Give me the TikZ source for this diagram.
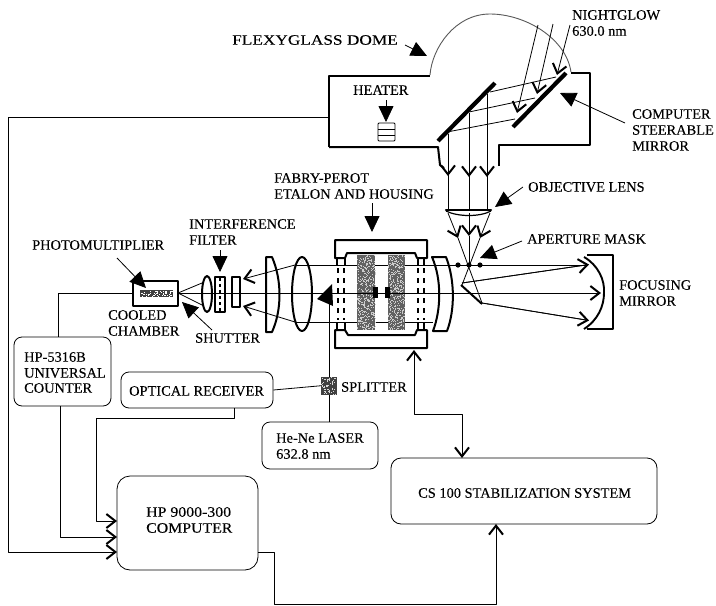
\documentclass[tikz,border=0pt]{standalone}
\usepackage{fontspec}
\setmainfont{Liberation Serif}[FakeBold=0.15]
\usetikzlibrary{arrows.meta}
\begin{document}
\begin{tikzpicture}[x=1pt,y=-1pt,line join=round,
  thinl/.style={draw=black,line width=0.8pt},
  wall/.style={draw=black,line width=2pt},
  thick mirror/.style={draw=black,line width=4.2pt},
  vee/.style={thinl,-{Straight Barb[length=9pt,width=14pt,line width=2pt]}},
  solidarrow/.style={thinl,-{Triangle[length=16pt,width=15pt]}},
  lbl/.style={font=\fontsize{14.4}{16}\selectfont,inner sep=0pt,anchor=west,text=black},
  sbox/.style={thinl,rounded corners=8pt,inner sep=0pt},
  lensline/.style={draw=black,line width=2pt}]
\useasboundingbox (0,0) rectangle (716,606);
\fill[white] (0,0) rectangle (716,606);

% ---------- boxes
\node[sbox,minimum width=97pt,minimum height=69pt] (counter) at (62.5,371.5) {};
\node[sbox,minimum width=152pt,minimum height=36pt] (recv) at (197,390) {};
\node[sbox,minimum width=116pt,minimum height=47pt] (laser) at (320,445.5) {};
\node[sbox,minimum width=141pt,minimum height=94pt,rounded corners=13pt] (comp) at (187.5,523) {};
\node[sbox,minimum width=266pt,minimum height=66pt,rounded corners=10pt] (cs) at (524,491) {};

% ---------- named connection points
\coordinate (housingOut) at (329,117);
\coordinate (corner1) at (8,117);
\coordinate (corner2) at (8,552);
\coordinate (compA) at (117,521);
\coordinate (compB) at (117,537);
\coordinate (compC) at (117,552);
\coordinate (compOut) at (258,552);
\coordinate (pmtOut) at (133,293);
\coordinate (etalonIn) at (414,350);
\coordinate (csIn) at (462,458);
\coordinate (csIn2) at (496,524);
\coordinate (split) at (329,385);

% ---------- signal wiring
\draw[vee] (housingOut) -- (corner1) -- (corner2) -- (compC);
\draw[vee] (60,406) -- (60,537) -- (compB);
\draw[vee] (234,408) -- (234,418) -- (96,418) -- (96,521) -- (compA);
\draw[thinl] (pmtOut) -- (58,293) -- (58,337);
\draw[thinl] (recv.east) -- (split);
\draw[vee] (compOut) -- (274,552) -- (274,604) -- (496,604) -- (csIn2);
\draw[vee] (414,400) -- (414,414) -- (462,414) -- (csIn);
\draw[vee] (414,400) -- (etalonIn);
\draw[thinl] (329,422) -- (329,300);

% ---------- housing and dome
\draw[wall] (329,147) -- (329,76) -- (430,76);
\draw[wall] (329,147) -- (438,147) -- (440,165) -- (444,168);
\draw[wall] (499,166) -- (499,145) -- (590,145) -- (590,73) -- (571,73);
\draw[draw=black!65,line width=0.9pt] (430,75) .. controls (432,48) and (455,14) .. (490,14)
  .. controls (525,14) and (566,38) .. (571,72);

% mirrors
\draw[thick mirror] (438,141) -- (495,83);
\draw[thick mirror] (513,127) -- (566,73);

% nightglow rays
\draw[vee] (570,25) -- (557,75);
\draw[vee] (553,24) -- (537,94);
\draw[vee] (538,25) -- (517,113);
\draw[thinl] (556,77) -- (490,92);
\draw[thinl] (535,98) -- (469,112);
\draw[thinl] (515,119) -- (447,132);

% down rays
\draw[thinl] (448,134) -- (448,209);
\draw[thinl] (469,113) -- (469,209);
\draw[thinl] (487,94) -- (487,209);
\draw[vee] (448,134) -- (448,176);
\draw[vee] (469,113) -- (469,177);
\draw[vee] (487,94) -- (487,177);

% objective lens
\draw[black,line width=2.4pt,line cap=round] (446,210) -- (491,210);
\draw[black,line width=1.2pt] (446,211) .. controls (458,217) and (480,217) .. (491,211);

% converging rays
\draw[vee] (448,213) -- (458,238);
\draw[vee] (490,213) -- (480,238);
\draw[vee] (469,213) -- (469,236);
\draw[thinl] (458,238) -- (482,303);
\draw[thinl] (480,238) -- (462,285);
\draw[thinl] (469,236) -- (469,265);

% aperture dots
\foreach \px/\nm in {458/a,469/b,480/c}{\fill[black] (\px,265) circle (2.6pt);}

% small folding mirror
\draw[black,line width=2pt] (461,285) -- (482,304);

% beams
\draw[thinl] (295,265) -- (587,265);
\draw[thinl] (295,322) -- (433,322);
\draw[thinl] (178,293) -- (590,293);
\draw[thinl] (462,283) -- (586,265);
\draw[thinl] (482,303) -- (586,320);
\draw[vee] (295,265) -- (243,279);
\draw[vee] (295,322) -- (243,306);
\draw[thinl] (202,283) -- (178,293) -- (202,305);

% focusing mirror
\draw[black,line width=1.8pt] (587,255) -- (613,255) -- (613,329) -- (587,329);
\draw[black,line width=1.9pt] (584,257) .. controls (598,265) and (605,280) .. (604,293)
  .. controls (604,306) and (598,320) .. (584,329);
\draw[vee] (462,283) -- (589,264.5);
\draw[vee] (482,303) -- (589,320.5);
\draw[vee] (470,293) -- (601,293);

% meniscus lens
\draw[lensline] (432,257) -- (446,257) .. controls (455,280) and (455,310) .. (447,331)
  -- (433,331) .. controls (441,310) and (442,280) .. (432,257) -- cycle;

% collimating lenses
\draw[lensline] (266,257) -- (272,257) .. controls (282,280) and (282,310) .. (272,332) -- (266,332) -- cycle;
\draw[lensline] (302,294) ellipse (10pt and 37pt);
\draw[lensline] (207,294) ellipse (5pt and 18pt);
\draw[lensline] (215,277) rectangle (225,312);
\draw[black,line width=1.4pt,dash pattern=on 3pt off 3pt] (220,278) -- (220,311);
\draw[lensline] (232,277) rectangle (240,307);

% etalon housing
\draw[wall] (335,258) -- (335,240) -- (427,240) -- (427,258) -- (417,258) -- (415,253) -- (347,253) -- (345,258) -- cycle;
\draw[wall] (335,330) -- (345,330) -- (348,335) -- (415,335) -- (417,330) -- (427,330) -- (427,348) -- (335,348) -- cycle;
\draw[black,line width=1.2pt] (337,258) -- (337,265) (345,258) -- (345,265) (418,258) -- (418,265) (424,258) -- (424,265);
\draw[black,line width=1.2pt] (337,322) -- (337,330) (345,322) -- (345,330) (418,322) -- (418,330) (424,322) -- (424,330);
\draw[black,line width=1.4pt,dash pattern=on 5pt off 5pt] (338,268) -- (338,320) (344,268) -- (344,320) (418,268) -- (418,320) (424,268) -- (424,320);

% etalon plates
\fill[black!62] (357,255) rectangle (375,330);
\fill[black!62] (388,255) rectangle (405,330);
\pgfmathsetseed{7}
\foreach \i in {1,...,420}{
  \pgfmathsetmacro{\rx}{357+18*rnd}
  \pgfmathsetmacro{\ry}{255+74*rnd}
  \fill[black!20] (\rx,\ry) rectangle ++(0.9,0.9);
  \pgfmathsetmacro{\sx}{388+16*rnd}
  \pgfmathsetmacro{\sy}{255+74*rnd}
  \fill[black!20] (\sx,\sy) rectangle ++(0.9,0.9);
}
\fill[black] (373,287) rectangle (378,298);
\fill[black] (385,287) rectangle (390,298);
\draw[thinl] (340,293) -- (420,293);

% splitter
\fill[black!75] (321,377) rectangle (337,395);
\foreach \i in {1,...,50}{
  \pgfmathsetmacro{\rx}{321+15*rnd}
  \pgfmathsetmacro{\ry}{377+17*rnd}
  \fill[black!15] (\rx,\ry) rectangle ++(1.1,1.1);
}

% PMT and chamber
\draw[black,line width=2.6pt] (133,281) rectangle (178,306);
\fill[black!75] (140,290) rectangle (173,297);
\foreach \i in {1,...,60}{
  \pgfmathsetmacro{\rx}{141+31*rnd}
  \pgfmathsetmacro{\ry}{291+5*rnd}
  \fill[white] (\rx,\ry) rectangle ++(1,1);
}

% heater
\draw[black,line width=0.9pt,rounded corners=1pt] (378,123) rectangle (395,141);
\draw[black,line width=0.9pt] (378,129) -- (395,129) (378,135) -- (395,135);

% filled pointer arrows
\coordinate (tipDome) at (427,56);
\coordinate (tipHeater) at (386,122);
\coordinate (tipSteer) at (560,93);
\coordinate (tipObj) at (495,207);
\coordinate (tipFP) at (372,232);
\coordinate (tipAp) at (480,258);
\coordinate (tipPM) at (146,288);
\coordinate (tipFilter) at (220,272);
\coordinate (tipShut) at (182,302);
\draw[solidarrow] (405,45) -- (tipDome);
\draw[solidarrow] (386,100) -- (tipHeater);
\draw[solidarrow] (625,123) -- (tipSteer);
\draw[solidarrow] (523,187) -- (tipObj);
\draw[solidarrow] (372,203) -- (tipFP);
\draw[solidarrow] (522,241) -- (tipAp);
\draw[solidarrow] (117,258) -- (tipPM);
\draw[solidarrow] (220,250) -- (tipFilter);
\draw[solidarrow] (212,330) -- (tipShut);
\fill[black] (317,299) -- (332,284) -- (333,306) -- cycle;

% ---------- labels
\node[lbl] (tDome) at (232,40) {\scalebox{1.2}[1]{FLEXYGLASS DOME}};
\node[lbl] (tNight) at (572,15) {NIGHTGLOW};
\node[lbl] (tNm) at (572,31) {630.0 nm};
\node[lbl] (tHeat) at (353,90) {HEATER};
\node[lbl] (tC1) at (632,114) {COMPUTER};
\node[lbl] (tC2) at (632,130) {STEERABLE};
\node[lbl] (tC3) at (632,146) {MIRROR};
\node[lbl] (tObj) at (528,187) {OBJECTIVE LENS};
\node[lbl] (tFP1) at (274,178) {FABRY-PEROT};
\node[lbl] (tFP2) at (274,194) {ETALON AND HOUSING};
\node[lbl] (tAp) at (527,239) {APERTURE MASK};
\node[lbl] (tFoc1) at (619,285) {FOCUSING};
\node[lbl] (tFoc2) at (619,301) {MIRROR};
\node[lbl] (tPM) at (32,245) {PHOTOMULTIPLIER};
\node[lbl] (tIF1) at (189,224) {INTERFERENCE};
\node[lbl] (tIF2) at (189,240) {FILTER};
\node[lbl] (tCC1) at (108,315) {COOLED};
\node[lbl] (tCC2) at (108,331) {CHAMBER};
\node[lbl] (tSh) at (195,338) {SHUTTER};
\node[lbl] (tCt1) at (24,357) {HP-5316B};
\node[lbl] (tCt2) at (24,373) {UNIVERSAL};
\node[lbl] (tCt3) at (24,388) {COUNTER};
\node[lbl] (tRecv) at (129,391) {OPTICAL RECEIVER};
\node[lbl] (tSpl) at (341,387) {SPLITTER};
\node[lbl] (tLas1) at (276,438) {He-Ne LASER};
\node[lbl] (tLas2) at (276,454) {632.8 nm};
\node[lbl] (tComp1) at (146,512) {\scalebox{1.1}[1]{HP 9000-300}};
\node[lbl] (tComp2) at (146,528) {\scalebox{1.1}[1]{COMPUTER}};
\node[lbl] (tCS) at (418,493) {CS 100 STABILIZATION SYSTEM};
\end{tikzpicture}
\end{document}
